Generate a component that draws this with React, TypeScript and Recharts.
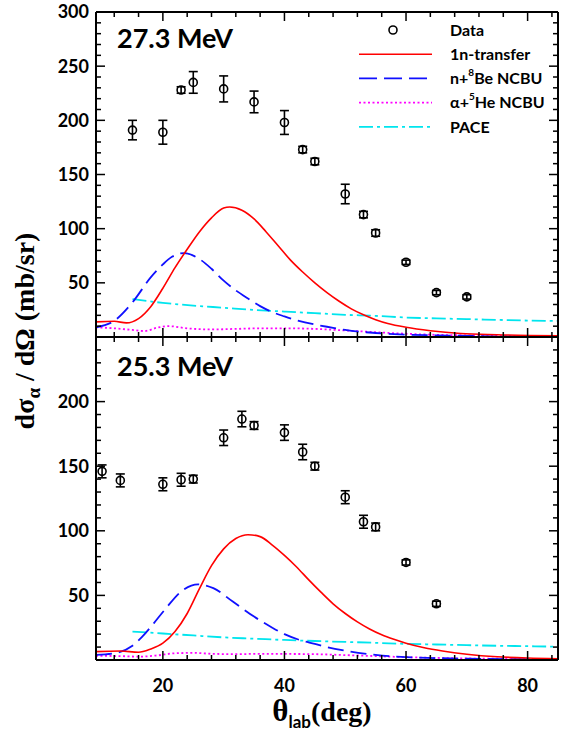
import { ComposedChart, Line, Scatter, ErrorBar, XAxis, YAxis, Legend } from 'recharts';

// 27.3 MeV
const DATA_27_DEG = [15, 20, 23, 25, 30, 35, 40, 43, 45, 50, 53, 55, 60, 65, 70];
const DATA_27 = [191, 189, 228, 235, 229, 217, 198, 173, 162, 132, 113, 96, 69, 41, 37];
const DATA_27_ERR = [9, 11, 3, 10, 12, 10, 11, 3, 3, 9, 3, 3, 2, 2, 2];

const TRANSFER_27_DEG = [9, 12, 14, 16, 18, 20, 22, 24, 26, 28, 30, 31, 33, 35, 37, 39, 41, 43, 45, 47, 49, 51, 53, 55, 57, 60, 64, 69, 75, 85];
const TRANSFER_27 = [14, 14.5, 13, 17, 28, 45, 64, 81, 97, 110, 119, 120, 117, 109, 97, 84, 71, 60, 50, 41, 33, 26, 20.5, 16, 12.5, 9, 5.8, 3.2, 2.1, 1.2];

const BE_27_DEG = [9, 12, 15, 18, 20, 21.5, 23.5, 26, 28, 30, 32, 34, 36, 38, 40, 42, 45, 48, 50, 55, 60, 65, 70, 78, 85];
const BE_27 = [9, 15, 32, 55, 67, 74, 77.5, 72, 63, 52, 43, 35.5, 28.5, 23, 19, 15.5, 11.5, 8.5, 6.5, 3.7, 2.2, 1.5, 1, 0.5, 0.4];

const HE_27_DEG = [9, 12, 15, 17, 19, 21, 24, 28, 32, 36, 40, 45, 50, 55, 60, 65, 70, 75, 85];
const HE_27 = [9, 8, 6.5, 5.5, 8.5, 10, 8, 7, 7.5, 8, 8, 7.5, 6, 4.5, 3, 2, 1.5, 1, 0.8];

const PACE_27_DEG = [15, 20, 25, 30, 35, 40, 45, 50, 55, 60, 65, 70, 75, 80, 85];
const PACE_27 = [35, 31.5, 29, 27, 25, 23.5, 22, 20.5, 19.5, 18, 17.2, 16.5, 15.8, 15.2, 14.8];

// 25.3 MeV
const DATA_25_DEG = [10, 13, 20, 23, 25, 30, 33, 35, 40, 43, 45, 50, 53, 55, 60, 65];
const DATA_25 = [146, 139, 136, 139.5, 140, 172, 186.5, 181.5, 176, 161, 150, 126, 107, 103, 75.5, 43.5];
const DATA_25_ERR = [5, 5, 5, 5, 3, 6, 6, 3, 6, 6, 3, 5, 5, 3, 2, 2];

const TRANSFER_25_DEG = [9, 13, 16, 18, 20, 22, 24, 26, 28, 30, 32, 34, 36, 38, 40, 42, 44, 46, 48, 50, 52, 54, 56, 58, 60, 63, 66, 70, 75, 80, 85];
const TRANSFER_25 = [6.5, 7, 6, 8.5, 13, 22, 36, 55, 73, 86, 94, 97, 95.5, 89, 81, 72, 62, 52.5, 43.5, 36, 29.5, 24, 19.5, 16, 13, 9.5, 7, 4.5, 2.5, 1.5, 1];

const BE_25_DEG = [9, 12.5, 15, 16.5, 18.5, 20.5, 23, 25.8, 28.3, 31.5, 35, 38, 40, 42.5, 45, 47, 50, 55, 60, 65, 70, 85];
const BE_25 = [3.9, 5.7, 11, 17.5, 28.4, 40, 53, 58.5, 55.6, 45.2, 33.6, 25, 20, 15.5, 12.5, 10, 7.2, 4, 2.2, 1.5, 1, 0.5];

const HE_25_DEG = [9, 13, 16, 19, 22, 25, 28, 32, 36, 40, 45, 50, 55, 60, 65, 70, 75, 85];
const HE_25 = [3.2, 3, 2.6, 3.5, 5.2, 5.5, 4.8, 4.5, 4.8, 4.7, 4.5, 3.8, 3, 2.2, 1.6, 1.2, 1, 0.8];

const PACE_25_DEG = [15, 20, 25, 30, 35, 40, 45, 50, 55, 60, 65, 70, 75, 80, 85];
const PACE_25 = [22, 20.5, 19, 17.5, 16.5, 15.5, 14.7, 14, 13.3, 12.5, 12, 11.5, 11, 10.7, 10.3];

// ticks
const X_TICKS = [12, 16, 20, 24, 28, 32, 36, 40, 44, 48, 52, 56, 60, 64, 68, 72, 76, 80, 84];
const X_LABELS = [20, 40, 60, 80];
const Y_TICKS_27 = [10, 20, 30, 40, 50, 60, 70, 80, 90, 100, 110, 120, 130, 140, 150, 160, 170, 180, 190, 200, 210, 220, 230, 240, 250, 260, 270, 280, 290, 300];
const Y_LABELS_27 = [50, 100, 150, 200, 250, 300];
const Y_TICKS_25 = [10, 20, 30, 40, 50, 60, 70, 80, 90, 100, 110, 120, 130, 140, 150, 160, 170, 180, 190, 200, 210, 220, 230, 240];
const Y_LABELS_25 = [50, 100, 150, 200];

const LEGEND_LABELS = [['Data'], ['1n-transfer'], ['n+', '8', 'Be NCBU'], ['α+', '5', 'He NCBU'], ['PACE']];

const RED = '#ff0000';
const BLUE = '#1010ff';
const MAGENTA = '#ff00ff';
const CYAN = '#00e5ee';

const pts = (xs: number[], ys: number[]) => xs.map((x, i) => ({ x, y: ys[i] }));
const withErr = (xs: number[], ys: number[], es: number[]) => xs.map((x, i) => ({ x, y: ys[i], err: es[i] }));

const sans = 'Lato, "Open Sans", sans-serif';
const serif = '"Liberation Serif", "Times New Roman", serif';
const tickFont = { fontFamily: sans, fontWeight: 700, fontSize: 18 };

function LeftTick(props: any) {
  const { x, y, payload, labels } = props;
  const major = labels.includes(payload.value);
  return (
    <g>
      <line x1={x} x2={x + (major ? 9 : 5)} y1={y} y2={y} stroke="#000" strokeWidth={1.5} />
      {major && (
        <text x={x - 7} y={y} dy="0.36em" textAnchor="end" fill="#000" style={tickFont}>{payload.value}</text>
      )}
    </g>
  );
}

function RightTick(props: any) {
  const { x, y, payload, labels } = props;
  const major = labels.includes(payload.value);
  return <line x1={x} x2={x - (major ? 9 : 5)} y1={y} y2={y} stroke="#000" strokeWidth={1.5} />;
}

function TopTick(props: any) {
  const { x, y, payload } = props;
  const major = X_LABELS.includes(payload.value);
  return <line x1={x} x2={x} y1={y} y2={y + (major ? 9 : 5)} stroke="#000" strokeWidth={1.5} />;
}

function BottomTick(props: any) {
  const { x, y, payload, showLabels } = props;
  const major = X_LABELS.includes(payload.value);
  return (
    <g>
      <line x1={x} x2={x} y1={y} y2={y - (major ? 9 : 5)} stroke="#000" strokeWidth={1.5} />
      {showLabels && major && (
        <text x={x} y={y + 32} textAnchor="middle" fill="#000" style={tickFont}>{payload.value}</text>
      )}
    </g>
  );
}

function renderLegend() {
  return (
    <svg width={210} height={125}>
      {LEGEND_LABELS.map((parts, i) => {
        const cy = 15 + i * 24.2;
        let sym;
        if (i === 0) sym = <circle cx={43} cy={cy} r={4} fill="none" stroke="#000" strokeWidth={1.6} />;
        if (i === 1) sym = <line x1={9} x2={82} y1={cy} y2={cy} stroke={RED} strokeWidth={1.6} />;
        if (i === 2) sym = <line x1={9} x2={82} y1={cy} y2={cy} stroke={BLUE} strokeWidth={1.8} strokeDasharray="18 7" />;
        if (i === 3) sym = <line x1={9} x2={82} y1={cy} y2={cy} stroke={MAGENTA} strokeWidth={1.8} strokeDasharray="2 2.5" />;
        if (i === 4) sym = <line x1={9} x2={82} y1={cy} y2={cy} stroke={CYAN} strokeWidth={1.8} strokeDasharray="14 4 3 4" />;
        return (
          <g key={i}>
            {sym}
            <text x={100} y={cy} dy="0.36em" fill="#000" style={{ fontFamily: sans, fontWeight: 700, fontSize: 16 }}>
              {parts[0]}
              {parts.length > 1 && <tspan fontSize={10} dy={-8}>{parts[1]}</tspan>}
              {parts.length > 1 && <tspan dy={8}>{parts[2]}</tspan>}
            </text>
          </g>
        );
      })}
    </svg>
  );
}

interface PanelProps {
  top: number;
  topAxisH: number;
  bottomAxisH: number;
  plotH: number;
  yMax: number;
  yTicks: number[];
  yLabels: number[];
  data: { x: number; y: number; err: number }[];
  transfer: { x: number; y: number }[];
  be: { x: number; y: number }[];
  he: { x: number; y: number }[];
  pace: { x: number; y: number }[];
  showXLabels: boolean;
  legend: boolean;
}

function Panel(p: PanelProps) {
  const height = p.topAxisH + p.plotH + p.bottomAxisH;
  return (
    <div style={{ position: 'absolute', left: 0, top: p.top }}>
      <ComposedChart width={568} height={height} margin={{ top: 0, right: 0, bottom: 0, left: 0 }}>
        <XAxis xAxisId="b" dataKey="x" type="number" domain={[9, 85]} allowDataOverflow ticks={X_TICKS} interval={0}
          height={p.bottomAxisH} tickSize={0} tickMargin={0} axisLine={{ stroke: '#000', strokeWidth: 2 }} tickLine={false}
          tick={(t: any) => <BottomTick {...t} showLabels={p.showXLabels} />} />
        <XAxis xAxisId="t" orientation="top" dataKey="x" type="number" domain={[9, 85]} allowDataOverflow ticks={X_TICKS} interval={0}
          height={p.topAxisH} tickSize={0} tickMargin={0} axisLine={{ stroke: '#000', strokeWidth: 2 }} tickLine={false}
          tick={(t: any) => <TopTick {...t} />} />
        <YAxis yAxisId="l" dataKey="y" type="number" domain={[0, p.yMax]} allowDataOverflow ticks={p.yTicks} interval={0}
          width={96} tickSize={0} tickMargin={0} axisLine={{ stroke: '#000', strokeWidth: 2 }} tickLine={false}
          tick={(t: any) => <LeftTick {...t} labels={p.yLabels} />} />
        <YAxis yAxisId="r" orientation="right" dataKey="y" type="number" domain={[0, p.yMax]} allowDataOverflow ticks={p.yTicks} interval={0}
          width={10} tickSize={0} tickMargin={0} axisLine={{ stroke: '#000', strokeWidth: 2 }} tickLine={false}
          tick={(t: any) => <RightTick {...t} labels={p.yLabels} />} />
        <Line xAxisId="b" yAxisId="l" data={p.he} dataKey="y" type="monotone" stroke={MAGENTA} strokeWidth={1.8}
          strokeDasharray="2 2.5" dot={false} activeDot={false} isAnimationActive={false} />
        <Line xAxisId="b" yAxisId="l" data={p.pace} dataKey="y" type="monotone" stroke={CYAN} strokeWidth={1.8}
          strokeDasharray="14 4 3 4" dot={false} activeDot={false} isAnimationActive={false} />
        <Line xAxisId="b" yAxisId="l" data={p.be} dataKey="y" type="monotone" stroke={BLUE} strokeWidth={1.8}
          strokeDasharray="16 7" dot={false} activeDot={false} isAnimationActive={false} />
        <Line xAxisId="b" yAxisId="l" data={p.transfer} dataKey="y" type="monotone" stroke={RED} strokeWidth={1.6}
          dot={false} activeDot={false} isAnimationActive={false} />
        <Scatter xAxisId="b" yAxisId="l" data={p.data} dataKey="y" isAnimationActive={false}
          shape={(s: any) => <circle cx={s.cx} cy={s.cy} r={4} fill="none" stroke="#000" strokeWidth={1.6} />}>
          <ErrorBar dataKey="err" direction="y" width={4.5} stroke="#000" strokeWidth={1.6} isAnimationActive={false} />
        </Scatter>
        {p.legend && (
          <Legend layout="vertical" align="center" verticalAlign="middle" content={renderLegend}
            wrapperStyle={{ left: 350, top: 15, width: 210, height: 125 }} />
        )}
      </ComposedChart>
    </div>
  );
}

export default function App() {
  return (
    <div style={{ position: 'absolute', left: 0, top: 0, width: 568, height: 738, background: '#fff' }}>
      <Panel top={0} topAxisH={12} bottomAxisH={10} plotH={325} yMax={300} yTicks={Y_TICKS_27} yLabels={Y_LABELS_27}
        data={withErr(DATA_27_DEG, DATA_27, DATA_27_ERR)} transfer={pts(TRANSFER_27_DEG, TRANSFER_27)}
        be={pts(BE_27_DEG, BE_27)} he={pts(HE_27_DEG, HE_27)} pace={pts(PACE_27_DEG, PACE_27)}
        showXLabels={false} legend />
      <Panel top={327} topAxisH={10} bottomAxisH={40} plotH={323} yMax={250} yTicks={Y_TICKS_25} yLabels={Y_LABELS_25}
        data={withErr(DATA_25_DEG, DATA_25, DATA_25_ERR)} transfer={pts(TRANSFER_25_DEG, TRANSFER_25)}
        be={pts(BE_25_DEG, BE_25)} he={pts(HE_25_DEG, HE_25)} pace={pts(PACE_25_DEG, PACE_25)}
        showXLabels legend={false} />
      <svg width={568} height={738} style={{ position: 'absolute', left: 0, top: 0, pointerEvents: 'none' }}>
        <text x={117} y={48} fill="#000" style={{ fontFamily: sans, fontWeight: 700, fontSize: 27 }}>27.3 MeV</text>
        <text x={117} y={376} fill="#000" style={{ fontFamily: sans, fontWeight: 700, fontSize: 27 }}>25.3 MeV</text>
        <text transform="translate(34, 331) rotate(-90)" textAnchor="middle" fill="#000"
          style={{ fontFamily: serif, fontWeight: 700, fontSize: 28 }}>
          dσ<tspan fontSize={19} dy={6}>α</tspan><tspan dy={-6}> / dΩ (mb/sr)</tspan>
        </text>
        <text x={322} y={721} textAnchor="middle" fill="#000" style={{ fontWeight: 700 }}>
          <tspan style={{ fontFamily: serif, fontSize: 31 }}>θ</tspan>
          <tspan dy={7} style={{ fontFamily: sans, fontSize: 17 }}>lab</tspan>
          <tspan dy={-7} style={{ fontFamily: serif, fontSize: 28 }}>(deg)</tspan>
        </text>
      </svg>
    </div>
  );
}
